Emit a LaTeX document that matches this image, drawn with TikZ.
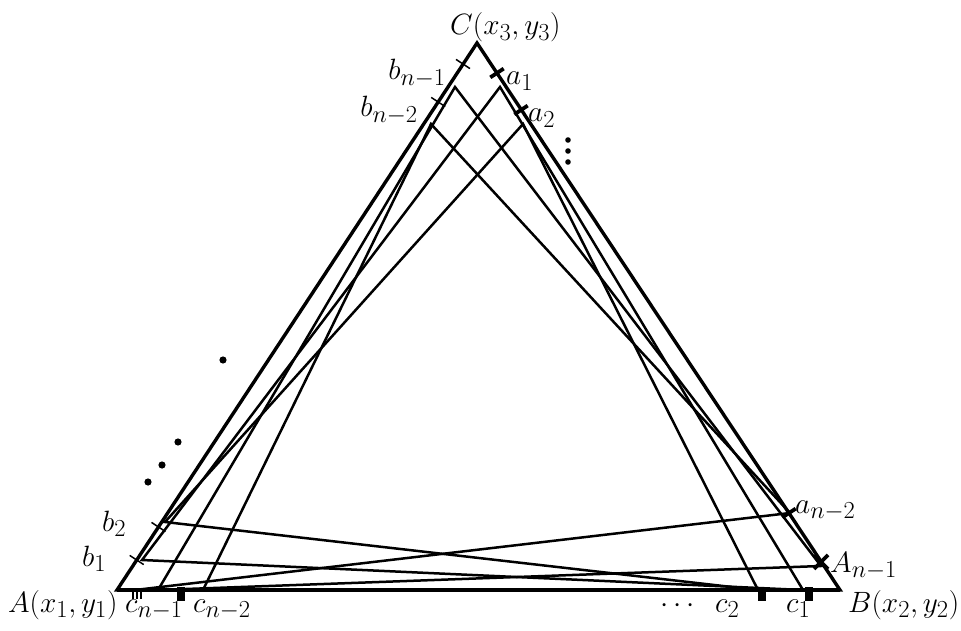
\documentclass[tikz,border=0pt]{standalone}
\usetikzlibrary{calc}
\newcommand{\lbl}[1]{\scalebox{1.18}{\Huge$#1$}}
\begin{document}
\begin{tikzpicture}[x=1pt,y=-1pt,
  side/.style={line width=3.4pt, line join=miter, miter limit=20},
  chord/.style={line width=2.5pt},
  tickthin/.style={line width=1.5pt},
  tickthick/.style={line width=3.8pt},
  lab/.style={inner sep=0pt},
  dotm/.style={fill=black, draw=none}]
\useasboundingbox (0,0) rectangle (961,631);
% vertices
\coordinate (A) at (117,590);
\coordinate (B) at (840,590);
\coordinate (C) at (477,43);
% chord end points
\coordinate (a1) at (500,87);   \coordinate (b1) at (142,560);  \coordinate (c1) at (803,590);
\coordinate (a2) at (523,124);  \coordinate (b2) at (165,522);  \coordinate (c2) at (758,590);
\coordinate (an2) at (790,513); \coordinate (bn2) at (431,124); \coordinate (cn2) at (203,590);
\coordinate (an1) at (821,566); \coordinate (bn1) at (455,87);  \coordinate (cn1) at (158,590);
\coordinate (cn2h) at (135,590);
% tick points on the sides
\coordinate (tb1) at (136.7,560); \coordinate (tb2) at (158.5,527);
\coordinate (tbn2) at (438.2,102); \coordinate (tbn1) at (463,64);
\coordinate (ta1) at (497,73); \coordinate (ta2) at (521,110);
\coordinate (tan2) at (789,513); \coordinate (tan1) at (821,562);
% chords
\draw[chord] (a1) -- (b1) -- (c1) -- cycle;
\draw[chord] (a2) -- (b2) -- (c2) -- cycle;
\draw[chord] (an2) -- (bn2) -- (cn2);
\draw[chord] (cn2h) -- (an2);
\draw[chord] (an1) -- (bn1) -- (cn1) -- cycle;
% triangle
\draw[side] (A) -- (B) -- (C) -- cycle;
\draw[line width=4.5pt] (A) -- (B);
% ticks on AC
\foreach \p in {tb1,tb2,tbn2,tbn1}
  \draw[tickthin] ($(\p)+(-7,-4.6)$) -- ($(\p)+(7,4.6)$);
% ticks on CB
\foreach \p in {ta1,ta2,tan2}
  \draw[tickthick] ($(\p)+(-6.7,4.4)$) -- ($(\p)+(6.7,-4.4)$);
\draw[tickthick] ($(tan1)+(-7,-7)$) -- ($(tan1)+(7,7)$);
\draw[tickthick] ($(tan1)+(-7,7)$) -- ($(tan1)+(7,-7)$);
% marks on AB
\coordinate (mcn1) at (137,590);
\foreach \dx in {-4,0,4}
  \draw[tickthin] ($(mcn1)+(\dx,0)$) -- ($(mcn1)+(\dx,9)$);
\coordinate (mcn2) at (181,590);
\coordinate (mc2) at (762,590);
\coordinate (mc1) at (809,590);
\foreach \p in {mcn2,mc2,mc1}
  \fill ($(\p)+(-4,-3)$) rectangle ($(\p)+(4,11)$);
% dots
\fill[dotm] (568,140) circle (2.8);
\fill[dotm] (568,151) circle (2.8);
\fill[dotm] (568,162) circle (2.8);
\fill[dotm] (223,360) circle (3.6);
\fill[dotm] (178,442) circle (3.6);
\fill[dotm] (162,465) circle (3.6);
\fill[dotm] (148,482) circle (3.6);
% labels
\node[lab, anchor=base west] (lC) at (450,35) {\lbl{C(x_3,y_3)}};
\node[lab, anchor=base west] (lA) at (8,612) {\lbl{A(x_1,y_1)}};
\node[lab, anchor=base west] (lB) at (848,612) {\lbl{B(x_2,y_2)}};
\node[lab, anchor=base east] (lbn1) at (446,80) {\lbl{b_{n-1}}};
\node[lab, anchor=base east] (lbn2) at (418,117) {\lbl{b_{n-2}}};
\node[lab, anchor=base west] (la1) at (506,85) {\lbl{a_1}};
\node[lab, anchor=base west] (la2) at (528,122) {\lbl{a_2}};
\node[lab, anchor=base west] (lb2) at (102,531) {\lbl{b_2}};
\node[lab, anchor=base west] (lb1) at (82,566) {\lbl{b_1}};
\node[lab, anchor=base west] (lan2) at (795,513) {\lbl{a_{n-2}}};
\node[lab, anchor=base west] (lan1) at (830,572) {\lbl{A_{n-1}}};
\node[lab, anchor=base west] (lcn1) at (125,612) {\lbl{c_{n-1}}};
\node[lab, anchor=base west] (lcn2) at (193,612) {\lbl{c_{n-2}}};
\node[lab, anchor=base west] (ldots) at (660,612) {\lbl{\cdots}};
\node[lab, anchor=base west] (lc2) at (715,612) {\lbl{c_2}};
\node[lab, anchor=base west] (lc1) at (786,612) {\lbl{c_1}};
\end{tikzpicture}
\end{document}
